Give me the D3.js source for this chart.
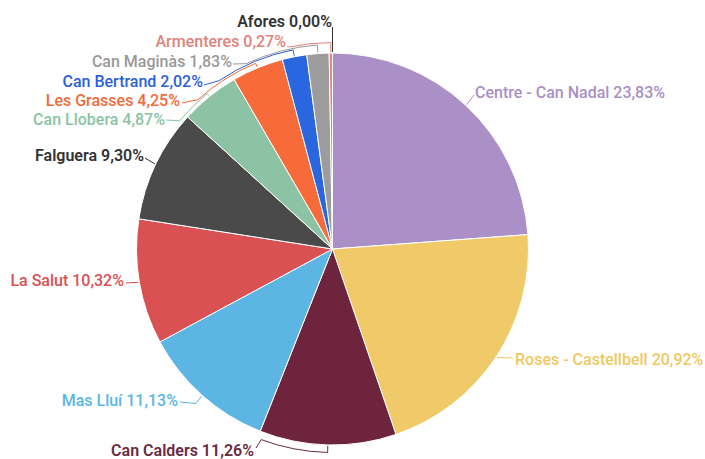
<!DOCTYPE html>
<meta charset="utf-8">
<style>
  body { margin: 0; background: #fff; }
  svg { display: block; }
  text {
    font-family: Roboto, sans-serif;
    font-size: 16px;
    dominant-baseline: central;
  }
</style>
<script src="https://d3js.org/d3.v7.min.js"></script>
<svg width="705" height="459"></svg>
<script>
  // data
  var categories = ["Centre - Can Nadal", "Roses - Castellbell", "Can Calders", "Mas Lluí", "La Salut",
    "Falguera", "Can Llobera", "Les Grasses", "Can Bertrand", "Can Maginàs", "Armenteres", "Afores"];
  var values = [23.83, 20.92, 11.26, 11.13, 10.32, 9.30, 4.87, 4.25, 2.02, 1.83, 0.27, 0.00];
  var colors = ["#ab8fc7", "#f0ca68", "#6d243c", "#5db5e3", "#da5153", "#4a4a4a",
    "#8cc3a5", "#f76a39", "#2a66df", "#9c9c9c", "#e7847d", "#333333"];
  var labelColors = ["#a98fc6", "#efc861", "#6b2a3f", "#5bb6e5", "#da5153", "#333333",
    "#8cc3a5", "#f26a3a", "#2b5fd8", "#999999", "#e0837b", "#333333"];

  // label layout (x, y, anchor); bracket = [radius offset, end angle in degrees]
  var labelLayout = [
    { x: 475, y: 92, anchor: "start", to: [474, 95] },
    { x: 515, y: 359, anchor: "start", to: [513, 358] },
    { x: 254, y: 450, anchor: "end", to: [256, 448], bracket: [7.5, 200.5] },
    { x: 178, y: 400, anchor: "end", to: [180, 402], via: [196, 403.5] },
    { x: 124, y: 280, anchor: "end", to: [126, 283] },
    { x: 144, y: 155, anchor: "end", to: [145, 158] },
    { x: 165, y: 119, anchor: "end", to: [166, 120], bracket: [3.5, 310] },
    { x: 180, y: 100, anchor: "end", to: [182, 103], bracket: [5, 318] },
    { x: 203, y: 81, anchor: "end", to: [204, 85], bracket: [7, 326] },
    { x: 232, y: 61, anchor: "end", to: [233, 64], bracket: [8.5, 335] },
    { x: 286, y: 41, anchor: "end", to: [287, 46.5], bracket: [10.5, 348] },
    { x: 332, y: 21, anchor: "end", to: [332.5, 27] }
  ];
  var boldLabels = ["Afores", "Falguera", "Can Calders"];

  var cx = 332.5, cy = 249, r = 196;
  var svg = d3.select("svg");
  var g = svg.append("g").attr("transform", "translate(" + cx + "," + cy + ")");

  var rows = categories.map(function(c, i) { return { name: c, value: values[i], i: i }; });
  var pie = d3.pie().sort(null).value(function(d) { return d.value; });
  var arcs = pie(rows);
  var arc = d3.arc().innerRadius(0).outerRadius(r);

  g.selectAll("path.slice")
    .data(arcs.filter(function(d) { return d.data.value > 0; }))
    .enter().append("path")
    .attr("class", "slice")
    .attr("d", arc)
    .attr("fill", function(d) { return colors[d.data.i]; })
    .attr("stroke", "#fff")
    .attr("stroke-width", 1);

  function pt(a, rr) {
    return [rr * Math.sin(a), -rr * Math.cos(a)];
  }
  var rad = Math.PI / 180;

  arcs.forEach(function(d) {
    var i = d.data.i, L = labelLayout[i];
    var mid = (d.startAngle + d.endAngle) / 2;
    var to = [L.to[0] - cx, L.to[1] - cy];
    var p;
    if (L.bracket) {
      var rb = r + L.bracket[0], a1 = L.bracket[1] * rad;
      var s = pt(a1, rb), e = pt(mid, rb), t = pt(mid, r + 1);
      p = "M" + to + "L" + s + "A" + rb + "," + rb + " 0 0 " + (mid > a1 ? 1 : 0) + " " + e + "L" + t;
    } else {
      var s0 = pt(mid, r + 1);
      p = "M" + to + (L.via ? "L" + [L.via[0] - cx, L.via[1] - cy] : "") + "L" + s0;
    }
    g.append("path")
      .attr("d", p)
      .attr("fill", "none")
      .attr("stroke", labelColors[i])
      .attr("stroke-width", 1);

    svg.append("text")
      .attr("x", L.x)
      .attr("y", L.y)
      .attr("text-anchor", L.anchor)
      .attr("fill", labelColors[i])
      .style("font-weight", boldLabels.indexOf(d.data.name) >= 0 ? 600 : 500)
      .text(d.data.name + " " + d3.format(".2f")(d.data.value).replace(".", ",") + "%");
  });
</script>
